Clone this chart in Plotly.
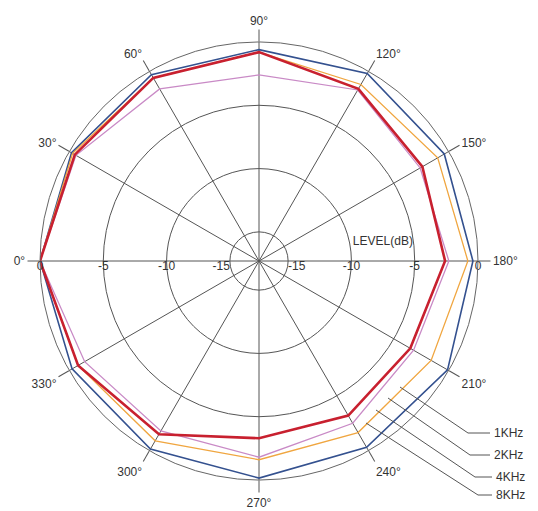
import plotly.graph_objects as go

# page body has an 8px margin, so the figure is sized to the visible area
OFF = 8
W, H = 538 - OFF, 511 - OFF

# ---- data ----
angles = [0, 30, 60, 90, 120, 150, 180, 210, 240, 270, 300, 330]
angle_labels = [f"{a}°" for a in angles]
freqs = ["1KHz", "2KHz", "4KHz", "8KHz"]
level_1k = [0, -0.2, -0.3, -0.6, -0.2, -0.4, -0.4, -0.1, -0.3, -0.15, -0.15, -0.25]
level_2k = [0, -0.3, -0.6, -0.8, -1.2, -1.0, -0.8, -1.6, -1.65, -1.6, -0.9, -0.8]
level_4k = [0, -0.6, -1.6, -2.6, -1.7, -2.6, -2.3, -3.2, -2.5, -1.8, -1.8, -1.4]
level_8k = [0, -0.5, -0.6, -0.8, -1.6, -2.4, -2.6, -3.5, -3.2, -3.3, -1.5, -0.8]
radial_ticks = [0, -5, -10, -15]
r_min = -17.3

series = [
    (freqs[0], level_1k, "#34518f", 1.6),
    (freqs[1], level_2k, "#f0a640", 1.3),
    (freqs[2], level_4k, "#c98ac6", 1.3),
    (freqs[3], level_8k, "#c8202f", 2.6),
]

FONT = dict(size=12, color="#333", family="Liberation Sans")

fig = go.Figure()

for name, vals, color, width in series:
    fig.add_trace(go.Scatterpolar(
        r=vals + vals[:1], theta=angles + angles[:1], mode="lines",
        name=name, line=dict(color=color, width=width), showlegend=False,
        hoverinfo="skip",
    ))

# radial tick labels along 0° and 180°
r_txt = radial_ticks + radial_ticks[::-1]
th_txt = [0] * 4 + [180] * 4
pos = ["bottom center"] * 3 + ["bottom left", "bottom right"] + ["bottom center"] * 3
fig.add_trace(go.Scatterpolar(
    r=r_txt, theta=th_txt, mode="text", text=[str(v) for v in r_txt],
    textposition=pos, textfont=FONT,
    showlegend=False, hoverinfo="skip", cliponaxis=False,
))
fig.add_trace(go.Scatterpolar(
    r=[-7.4], theta=[171.3], mode="text", text=["LEVEL(dB)"],
    textposition="middle center", textfont=FONT,
    showlegend=False, hoverinfo="skip", cliponaxis=False,
))


def px(x, y):
    """page pixel -> paper fraction"""
    return (x - OFF) / W, 1 - (y - OFF) / H


# leader-line legend
leaders = [
    ((400, 387), (468, 433), (490, 433)),
    ((388, 398), (470, 455), (490, 455)),
    ((376, 410), (475, 477), (492, 477)),
    ((366, 423), (478, 495), (492, 495)),
]
shapes = []
annotations = []
for name, pts in zip(freqs, leaders):
    p = [px(*q) for q in pts]
    path = f"M {p[0][0]},{p[0][1]} L {p[1][0]},{p[1][1]} L {p[2][0]},{p[2][1]}"
    shapes.append(dict(type="path", xref="paper", yref="paper", path=path,
                       line=dict(color="#555", width=1)))
    annotations.append(dict(x=p[2][0] + 2 / W, y=p[2][1], xref="paper", yref="paper",
                            text=name, showarrow=False, xanchor="left", yanchor="middle",
                            font=FONT))

x0, y0 = px(40, 480)
x1, y1 = px(478, 42)

fig.update_layout(
    width=W, height=H,
    margin=dict(l=0, r=0, t=0, b=0),
    paper_bgcolor="white",
    font=dict(family="Liberation Sans", color="#333"),
    shapes=shapes, annotations=annotations,
    polar=dict(
        domain=dict(x=[x0, x1], y=[y0, y1]),
        bgcolor="white",
        radialaxis=dict(range=[r_min, 0], tickvals=radial_ticks[1:], showticklabels=False,
                        ticks="", showline=False, gridcolor="#555", gridwidth=1),
        angularaxis=dict(rotation=180, direction="clockwise", tickvals=angles,
                         ticktext=angle_labels, showgrid=True, gridcolor="#555",
                         gridwidth=1, ticks="outside", ticklen=12, tickcolor="#555",
                         showline=True, linecolor="#666", linewidth=1,
                         tickfont=FONT),
    ),
)

fig.write_html("out.html")
